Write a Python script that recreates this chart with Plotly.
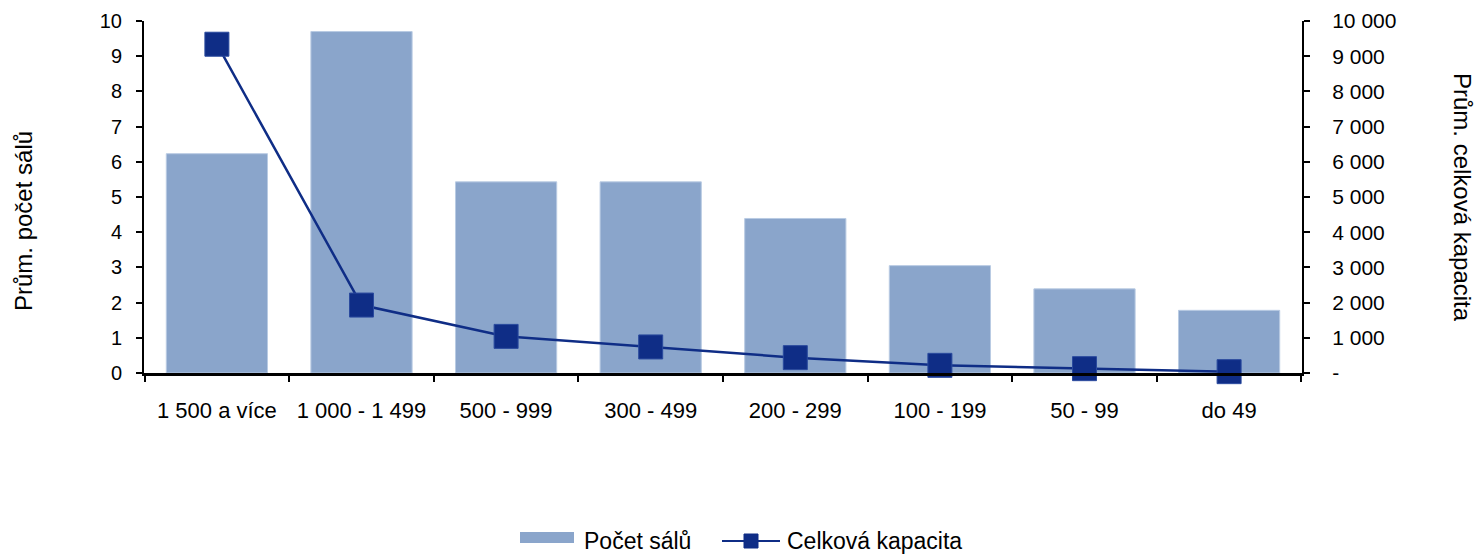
import plotly.graph_objects as go

# Size classes of cinemas (by total capacity)
categories = ["1 500 a více", "1 000 - 1 499", "500 - 999", "300 - 499",
              "200 - 299", "100 - 199", "50 - 99", "do 49"]
# Average number of screens per cinema (left axis)
pocet_salu = [6.23, 9.70, 5.43, 5.43, 4.39, 3.05, 2.39, 1.78]
# Average total capacity (right axis)
celkova_kapacita = [9340, 1930, 1040, 740, 436, 218, 123, 38]

left_ticks = list(range(0, 11))
right_tickvals = [0, 1000, 2000, 3000, 4000, 5000, 6000, 7000, 8000, 9000, 10000]
right_ticktext = ["-", "1 000", "2 000", "3 000", "4 000", "5 000",
                  "6 000", "7 000", "8 000", "9 000", "10 000"]

FONT = "Liberation Sans, Arial, sans-serif"
BAR_COLOR = "#8AA5CB"
LINE_COLOR = "#0F2D86"

W, H = 1476, 555
L, R, T, B = 144, 174, 21, 182
PW, PH = W - L - R, H - T - B


def px(x):
    """Horizontal pixel position -> paper coordinate."""
    return (x - L) / PW


def py(y):
    """Vertical pixel position -> paper coordinate."""
    return (H - B - y) / PH


fig = go.Figure()
fig.add_trace(go.Bar(
    x=categories, y=pocet_salu, name="Počet sálů",
    marker=dict(color=BAR_COLOR, line=dict(color="#B9CBE3", width=1)),
    width=0.70, yaxis="y", showlegend=False,
))
fig.add_trace(go.Scatter(
    x=categories, y=celkova_kapacita, name="Celková kapacita",
    mode="lines+markers", yaxis="y2", showlegend=False,
    line=dict(color=LINE_COLOR, width=2.5),
    marker=dict(symbol="square", size=24, color=LINE_COLOR,
                line=dict(color="#2A4A9E", width=1)),
    cliponaxis=False,
))

axis_common = dict(showline=True, linecolor="black", ticks="outside",
                   tickwidth=2, tickcolor="black", showgrid=False,
                   zeroline=False, automargin=False)

# Legend drawn below the plot: wide bar swatch and line-with-marker swatch
legend_shapes = [
    dict(type="rect", xref="paper", yref="paper",
         x0=px(520), x1=px(574), y0=py(543), y1=py(532),
         fillcolor=BAR_COLOR, line=dict(width=0)),
    dict(type="line", xref="paper", yref="paper",
         x0=px(722), x1=px(780), y0=py(541), y1=py(541),
         line=dict(color=LINE_COLOR, width=2)),
    dict(type="rect", xref="paper", yref="paper",
         x0=px(744), x1=px(758), y0=py(548), y1=py(534),
         fillcolor=LINE_COLOR, line=dict(color=LINE_COLOR, width=1)),
]
legend_labels = [
    dict(text="Počet sálů", xref="paper", yref="paper", x=px(582),
         y=py(541), xanchor="left", yanchor="middle", showarrow=False,
         font=dict(family=FONT, size=23, color="black")),
    dict(text="Celková kapacita", xref="paper", yref="paper", x=px(785),
         y=py(541), xanchor="left", yanchor="middle", showarrow=False,
         font=dict(family=FONT, size=23, color="black")),
]

fig.update_layout(
    width=W, height=H,
    margin=dict(l=L, r=R, t=T, b=B, autoexpand=False),
    paper_bgcolor="white", plot_bgcolor="white",
    font=dict(family=FONT, size=20, color="black"),
    bargap=0.3,
    showlegend=False,
    xaxis=dict(
        type="category", linewidth=3, tickson="boundaries", ticklen=6,
        ticklabelstandoff=16,
        tickfont=dict(family=FONT, size=22, color="black"),
        **axis_common,
    ),
    yaxis=dict(
        range=[0, 10], tickvals=left_ticks, linewidth=2, ticklen=6,
        ticklabelstandoff=10,
        tickfont=dict(family=FONT, size=20, color="black"),
        **axis_common,
    ),
    yaxis2=dict(
        range=[0, 10000], overlaying="y", side="right",
        tickvals=right_tickvals, ticktext=right_ticktext, linewidth=2,
        ticklen=6, ticklabelstandoff=18,
        tickfont=dict(family=FONT, size=21, color="black"),
        **axis_common,
    ),
    shapes=legend_shapes,
    annotations=[
        dict(text="Prům. počet sálů", textangle=-90, xref="paper",
             yref="paper", x=px(24), y=py(221),
             xanchor="center", yanchor="middle", showarrow=False,
             font=dict(family=FONT, size=24, color="black")),
        dict(text="Prům. celková kapacita", textangle=90, xref="paper",
             yref="paper", x=px(1463), y=py(197),
             xanchor="center", yanchor="middle", showarrow=False,
             font=dict(family=FONT, size=24, color="black")),
    ] + legend_labels,
)

fig.write_html("out.html")
